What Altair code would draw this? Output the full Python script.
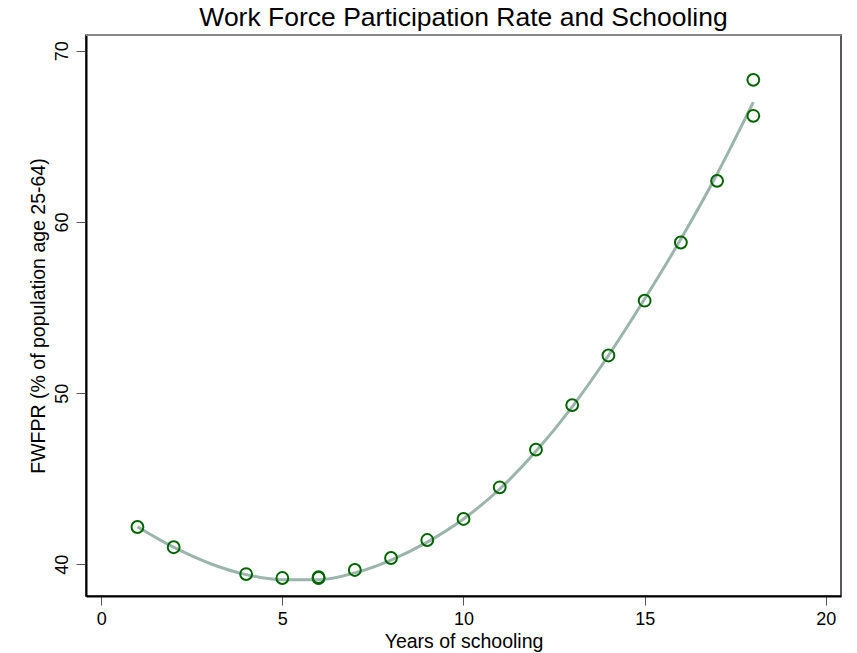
import altair as alt
import pandas as pd

# observed points
years = [1, 2, 4, 5, 6, 6, 7, 8, 9, 10, 11, 12, 13, 14, 15, 16, 17, 18, 18]
fwfpr = [42.18, 41.0, 39.43, 39.2, 39.2, 39.25, 39.67, 40.37, 41.42, 42.65,
         44.5, 46.7, 49.3, 52.2, 55.4, 58.8, 62.4, 68.3, 66.2]

# fitted curve
fit_years = [1, 2, 3, 4, 5, 6, 7, 8, 9, 10, 11, 12, 13, 14, 15, 16, 17, 18]
fit_vals = [42.2, 41.0, 40.05, 39.4, 39.1, 39.1, 39.5, 40.25, 41.3, 42.65,
            44.4, 46.6, 49.2, 52.2, 55.5, 59.0, 62.8, 67.0]

x_ticks = [0, 5, 10, 15, 20]
y_ticks = [40, 50, 60, 70]

pts = pd.DataFrame({"x": years, "y": fwfpr})
fit = pd.DataFrame({"x": fit_years, "y": fit_vals})

FONT = "Liberation Sans"

xscale = alt.Scale(domain=[-0.42, 20.42], nice=False, zero=False)
yscale = alt.Scale(domain=[38.15, 70.92], nice=False, zero=False)

xaxis = alt.Axis(values=x_ticks, title="Years of schooling", grid=False,
                 domainColor="#000", domainWidth=2, tickColor="#555",
                 tickSize=9, tickWidth=1, labelFontSize=18, labelFont=FONT,
                 labelColor="#000", labelPadding=5, titleFontSize=19.5,
                 titleFont=FONT, titleFontWeight="normal", titleColor="#000",
                 titlePadding=4)
yaxis = alt.Axis(values=y_ticks, title="FWFPR (% of population age 25-64)",
                 grid=False, domainColor="#000", domainWidth=2,
                 tickColor="#555", tickSize=10, tickWidth=1,
                 labelFontSize=18, labelFont=FONT, labelColor="#000",
                 labelAngle=-90, labelAlign="center", labelBaseline="bottom",
                 labelPadding=5, titleFontSize=19.5, titleFont=FONT,
                 titleFontWeight="normal", titleColor="#000", titlePadding=5)

top_border = alt.Chart(pd.DataFrame({"k": [0]})).mark_rule(
    color="#888", strokeWidth=2).encode(
    x=alt.value(0), x2=alt.value(755), y=alt.value(0))

line = alt.Chart(fit).mark_line(color="#9bb5ad", strokeWidth=3,
                                interpolate="monotone").encode(
    x=alt.X("x:Q", scale=xscale, axis=xaxis),
    y=alt.Y("y:Q", scale=yscale, axis=yaxis),
)

points = alt.Chart(pts).mark_point(shape="circle", filled=False,
                                   color="#006400", size=140,
                                   strokeWidth=2, opacity=1).encode(
    x=alt.X("x:Q", scale=xscale),
    y=alt.Y("y:Q", scale=yscale),
)

chart = (line + points + top_border).properties(
    width=755, height=561,
    title=alt.TitleParams("Work Force Participation Rate and Schooling",
                          fontSize=26.5, font=FONT, fontWeight="normal",
                          color="#000", anchor="middle", offset=3),
    autosize=alt.AutoSizeParams(type="none"),
    padding={"left": 78, "top": 27, "right": 8, "bottom": 60},
    background="white",
).configure_view(stroke="#222", strokeWidth=1.5)

chart.save("out.html", embed_options={"renderer": "svg", "actions": False})
